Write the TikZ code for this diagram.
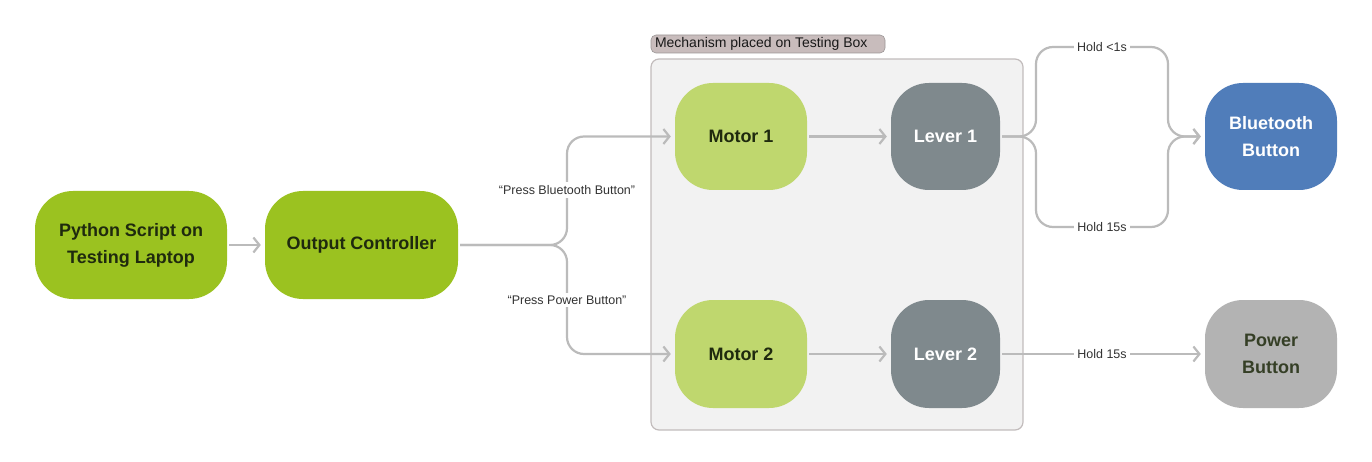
\documentclass[tikz,border=0pt]{standalone}
\usepackage{fontspec}
\setmainfont{Liberation Sans}
\usetikzlibrary{arrows.meta}
\definecolor{gA}{HTML}{9BC220}
\definecolor{gB}{HTML}{BFD76E}
\definecolor{lev}{HTML}{7F898D}
\definecolor{blu}{HTML}{507DBA}
\definecolor{pwr}{HTML}{B3B3B3}
\definecolor{dtx}{HTML}{1F2A0E}
\definecolor{con}{HTML}{BBBBBB}
\definecolor{boxf}{HTML}{F2F2F2}
\definecolor{boxd}{HTML}{C2BCBC}
\definecolor{tagf}{HTML}{C8BCBC}
\tikzset{
  block/.style={rounded corners=38pt, inner sep=0pt, align=center, font=\fontsize{18}{27}\selectfont\bfseries},
  conn/.style={draw=con, line width=2.2pt, rounded corners=17pt, -{Straight Barb[length=6pt,width=15pt,line width=2.2pt]}, shorten >=4pt, shorten <=2pt},
  lbl/.style={fill=white, inner sep=3pt, font=\fontsize{12.5}{14}\selectfont, text=black!80}
}
\begin{document}
\begin{tikzpicture}[x=1pt,y=-1pt]
\useasboundingbox (0,0) rectangle (1372,462);
% testing box
\draw[fill=boxf, draw=boxd, line width=1.2pt, rounded corners=8pt] (651,59) rectangle (1023,430);
\node[fill=tagf, draw=boxd!80!black, line width=0.6pt, rounded corners=5pt, text width=226pt, minimum height=18pt, inner xsep=4pt, inner ysep=0pt, align=flush left, font=\fontsize{14}{15}\selectfont, text=black!90] (tag) at (768,44) {Mechanism placed on Testing Box};
% nodes
\node[block, fill=gA, text=dtx, minimum width=192pt, minimum height=108pt] (py) at (131,245) {Python Script on\\Testing Laptop};
\node[block, fill=gA, text=dtx, minimum width=193pt, minimum height=108pt] (oc) at (361.5,245) {Output Controller};
\node[block, fill=gB, text=dtx, minimum width=132pt, minimum height=107pt] (m1) at (741,136.5) {Motor 1};
\node[block, fill=gB, text=dtx, minimum width=132pt, minimum height=108pt] (m2) at (741,354) {Motor 2};
\node[block, fill=lev, text=white, minimum width=109pt, minimum height=107pt] (l1) at (945.5,136.5) {Lever 1};
\node[block, fill=lev, text=white, minimum width=109pt, minimum height=108pt] (l2) at (945.5,354) {Lever 2};
\node[block, fill=blu, text=white, minimum width=132pt, minimum height=107pt] (bb) at (1271,136.5) {Bluetooth\\Button};
\node[block, fill=pwr, text=dtx!90, minimum width=132pt, minimum height=108pt] (pb) at (1271,354) {Power\\Button};
% coordinates
\coordinate (j1) at (567,245);
\coordinate (j1u) at (567,136.5);
\coordinate (j1d) at (567,354);
\coordinate (j2) at (1036,136.5);
\coordinate (j2u) at (1036,47);
\coordinate (j2d) at (1036,227);
\coordinate (j3u) at (1168,47);
\coordinate (j3d) at (1168,227);
\coordinate (j3) at (1168,136.5);
% connectors
\draw[conn] (py.east) -- (oc.west);
\draw[conn] (oc.east) -- (j1) -- (j1u) -- (m1.west);
\draw[conn] (oc.east) -- (j1) -- (j1d) -- (m2.west);
\draw[conn] (m1.east) -- (l1.west);
\draw[conn] (m2.east) -- (l2.west);
\draw[conn] (l1.east) -- (j2) -- (j2u) -- (j3u) -- (j3) -- (bb.west);
\draw[conn] (l1.east) -- (j2) -- (j2d) -- (j3d) -- (j3) -- (bb.west);
\draw[conn] (l2.east) -- (pb.west);
% labels
\node[lbl] (t1) at (567,190) {“Press Bluetooth Button”};
\node[lbl] (t2) at (567,300) {“Press Power Button”};
\node[lbl] (t3) at (1102,47) {Hold <1s};
\node[lbl] (t4) at (1102,227) {Hold 15s};
\node[lbl] (t5) at (1102,354) {Hold 15s};
\end{tikzpicture}
\end{document}
